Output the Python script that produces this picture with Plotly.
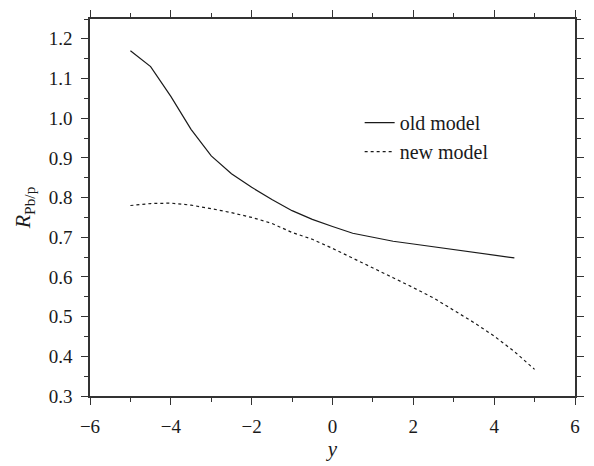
import plotly.graph_objects as go

x_old = [-5, -4.5, -4, -3.5, -3, -2.5, -2, -1.5, -1, -0.5, 0, 0.5, 1, 1.5, 2, 2.5, 3, 3.5, 4, 4.5]
r_old = [1.170, 1.130, 1.055, 0.972, 0.905, 0.860, 0.826, 0.795, 0.767, 0.745, 0.727, 0.710,
         0.700, 0.690, 0.683, 0.676, 0.668, 0.661, 0.655, 0.648]

x_new = [-5, -4.5, -4, -3.5, -3, -2.5, -2, -1.5, -1, -0.5, 0, 0.5, 1, 1.5, 2, 2.5, 3, 3.5, 4, 4.5, 5]
r_new = [0.780, 0.785, 0.786, 0.781, 0.772, 0.762, 0.750, 0.735, 0.712, 0.695, 0.672, 0.648,
         0.622, 0.598, 0.573, 0.547, 0.516, 0.485, 0.451, 0.412, 0.367]

x_ticks = [-6, -4, -2, 0, 2, 4, 6]
x_ticklabels = ["\u22126", "\u22124", "\u22122", "0", "2", "4", "6"]
y_ticks = [0.3, 0.4, 0.5, 0.6, 0.7, 0.8, 0.9, 1.0, 1.1, 1.2]
y_ticklabels = ["0.3", "0.4", "0.5", "0.6", "0.7", "0.8", "0.9", "1.0", "1.1", "1.2"]

FONT = "Liberation Serif"
INK = "#1a1a1a"

fig = go.Figure()
fig.add_trace(go.Scatter(x=x_old, y=r_old, mode="lines", name="old model",
                         line=dict(color=INK, width=1.2)))
fig.add_trace(go.Scatter(x=x_new, y=r_new, mode="lines", name="new model",
                         line=dict(color=INK, width=1.2, dash="dot")))

axis_common = dict(
    showline=True, linecolor="#333", linewidth=1.6, mirror="allticks",
    ticks="outside", ticklen=7, tickwidth=1.4, tickcolor="#333",
    showgrid=False, zeroline=False,
    tickfont=dict(family=FONT, size=19, color=INK),
)

fig.update_layout(
    width=594, height=466,
    margin=dict(l=90, r=10, t=10, b=70),
    paper_bgcolor="white", plot_bgcolor="white",
    font=dict(family=FONT, color=INK),
    showlegend=True,
    legend=dict(x=0.556, y=0.777, xanchor="left", yanchor="top",
                bgcolor="rgba(0,0,0,0)", font=dict(family=FONT, size=20, color=INK),
                tracegroupgap=0),
    xaxis=dict(range=[-6, 6], tickvals=x_ticks, ticktext=x_ticklabels,
               ticklabelstandoff=5,
               minor=dict(dtick=1, ticks="outside", ticklen=4, tickcolor="#333", tickwidth=1.3),
               title=dict(text="<i>y</i>", font=dict(family=FONT, size=21), standoff=4),
               **axis_common),
    yaxis=dict(range=[0.3, 1.25], tickvals=y_ticks, ticktext=y_ticklabels,
               ticklabelstandoff=5,
               minor=dict(dtick=0.05, ticks="outside", ticklen=4, tickcolor="#333", tickwidth=1.3),
               title=dict(text="<i>R</i><sub>Pb/p</sub>", font=dict(family=FONT, size=22), standoff=12),
               **axis_common),
)

fig.write_html("out.html")
